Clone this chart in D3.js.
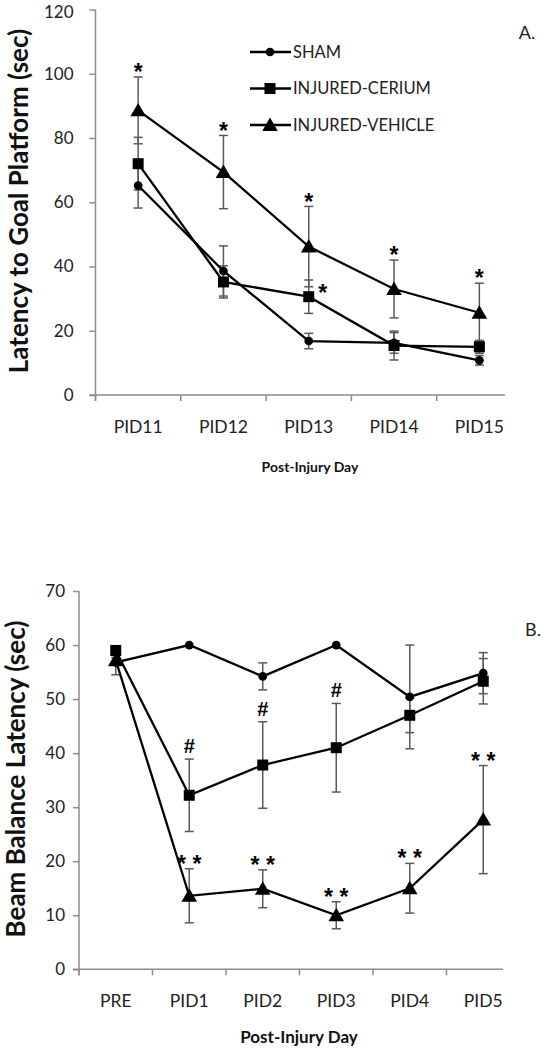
<!DOCTYPE html>
<html>
<head>
<meta charset="utf-8">
<script src="https://cdn.jsdelivr.net/npm/d3@7"></script>
<style>
  html, body { margin: 0; padding: 0; background: #fff; }
  svg { display: block; font-family: Lato, "Open Sans", sans-serif; }
</style>
</head>
<body>
<svg id="chart" width="547" height="1050"></svg>
<script>
// ---------- Panel A data ----------
const topCategories = ["PID11", "PID12", "PID13", "PID14", "PID15"];
const topYTicks = [0, 20, 40, 60, 80, 100, 120];
const topSham = [65.2, 38.6, 16.8, 16.2, 10.8];
const topShamErr = [7.0, 7.8, 2.4, 3.2, 1.5];
const topCerium = [72.0, 35.2, 30.6, 15.4, 15.0];
const topCeriumErr = [8.2, 5.0, 5.2, 4.5, 2.0];
const topVehicle = [88.6, 69.4, 46.2, 33.0, 25.6];
const topVehicleErr = [10.4, 11.4, 12.5, 9.0, 9.2];
const topMarksVehicle = ["*", "*", "*", "*", "*"];
const topMarksCerium = ["", "", "*", "", ""];

// ---------- Panel B data ----------
const botCategories = ["PRE", "PID1", "PID2", "PID3", "PID4", "PID5"];
const botYTicks = [0, 10, 20, 30, 40, 50, 60, 70];
const botSham = [56.8, 60.0, 54.2, 60.0, 50.4, 54.8];
const botShamErr = [2.3, 0, 2.5, 0, 9.6, 3.8];
const botCerium = [59.0, 32.2, 37.8, 41.0, 47.0, 53.3];
const botCeriumErr = [0.5, 6.7, 8.0, 8.2, 3.2, 4.2];
const botVehicle = [57.2, 13.6, 14.9, 10.0, 15.0, 27.7];
const botVehicleErr = [0.5, 5.0, 3.5, 2.5, 4.6, 10.0];
const botMarksCerium = ["", "#", "#", "#", "", ""];
const botMarksVehicle = ["", "* *", "* *", "* *", "* *", "* *"];

const seriesNames = ["SHAM", "INJURED-CERIUM", "INJURED-VEHICLE"];
const seriesShapes = ["circle", "square", "triangle"];

const svg = d3.select("#chart");
const AXIS = "#8c8c8c", ERR = "#5a5a5a", INK = "#000";

const symbolFor = {
  circle: d3.symbol().type(d3.symbolCircle).size(60),
  square: d3.symbol().type(d3.symbolSquare).size(121),
  triangle: d3.symbol().type(d3.symbolTriangle).size(105)
};

function drawPanel(cfg) {
  const g = svg.append("g");
  const x = d3.scaleBand().domain(cfg.categories).range([cfg.x0, cfg.x0 + cfg.step * cfg.categories.length]).paddingInner(0).paddingOuter(0);
  const y = d3.scaleLinear().domain([0, cfg.yMax]).range([cfg.y0, cfg.yTop]);
  const cx = c => x(c) + x.bandwidth() / 2;

  // y axis
  const yAxis = d3.axisLeft(y).tickValues(cfg.yTicks).tickSize(6).tickPadding(cfg.yPad);
  const ya = g.append("g").attr("transform", `translate(${cfg.x0},0)`).call(yAxis);
  ya.select(".domain").attr("stroke", AXIS).attr("stroke-width", 1.5).attr("d", `M-0,${cfg.yTop}V${cfg.y0 + 6}`);
  ya.selectAll(".tick line").attr("stroke", AXIS).attr("stroke-width", 1.5);
  ya.selectAll(".tick text").attr("font-size", 17).attr("fill", "#222").attr("font-family", "Lato, sans-serif")
    .attr("dy", d => (d === cfg.yMax && cfg.yTop < 15) ? "0.45em" : "0.32em");

  // x axis
  const xa = g.append("g").attr("transform", `translate(0,${cfg.y0})`);
  xa.append("line").attr("x1", cfg.x0 - 6).attr("x2", cfg.xEnd).attr("stroke", AXIS).attr("stroke-width", 1.5);
  xa.selectAll("line.tk").data(cfg.categories).join("line").attr("class", "tk")
    .attr("x1", d => x(d)).attr("x2", d => x(d)).attr("y1", 0).attr("y2", 6)
    .attr("stroke", AXIS).attr("stroke-width", 1.5);
  xa.selectAll("text").data(cfg.categories).join("text")
    .attr("x", d => cx(d)).attr("y", 32).attr("dy", "0.35em").attr("text-anchor", "middle")
    .attr("font-size", 17.5).attr("fill", "#222").text(d => d);

  // titles
  g.append("text").attr("x", cfg.xTitleX).attr("y", cfg.xTitleY).attr("text-anchor", "middle").attr("dy", "0.35em")
    .attr("font-size", cfg.xTitleSize).attr("font-weight", "bold").attr("fill", "#111").text(cfg.xTitle);
  g.append("text").attr("transform", `translate(${cfg.yTitleX},${cfg.yTitleY}) rotate(-90)`)
    .attr("text-anchor", "middle").attr("dy", "0.35em")
    .attr("font-size", cfg.yTitleSize).attr("font-weight", "bold").attr("fill", "#111").text(cfg.yTitle);
  g.append("text").attr("x", cfg.labelX).attr("y", cfg.labelY).attr("dy", "0.35em").attr("text-anchor", "middle")
    .attr("font-size", 18).attr("fill", "#222").text(cfg.label);

  // error bars
  cfg.series.forEach(s => {
    const eg = g.append("g");
    s.values.forEach((v, i) => {
      const e = s.err[i];
      if (!e) return;
      const xc = cx(cfg.categories[i]);
      eg.append("line").attr("x1", xc).attr("x2", xc).attr("y1", y(v - e)).attr("y2", y(v + e)).attr("stroke", ERR).attr("stroke-width", 1.5);
      [v - e, v + e].forEach(t => eg.append("line").attr("x1", xc - 4.5).attr("x2", xc + 4.5).attr("y1", y(t)).attr("y2", y(t)).attr("stroke", ERR).attr("stroke-width", 1.5));
    });
  });

  // lines + markers
  const line = d3.line().x((d, i) => cx(cfg.categories[i])).y(d => y(d));
  cfg.series.forEach(s => {
    g.append("path").attr("d", line(s.values)).attr("fill", "none").attr("stroke", INK).attr("stroke-width", 2.3);
  });
  cfg.series.forEach(s => {
    g.selectAll(null).data(s.values).join("path")
      .attr("transform", (d, i) => `translate(${cx(cfg.categories[i])},${y(d) + (s.shape === "triangle" ? 1.5 : 0)})`)
      .attr("d", symbolFor[s.shape]).attr("fill", INK);
  });

  // significance marks
  cfg.series.forEach(s => {
    if (!s.marks) return;
    s.marks.forEach((m, i) => {
      if (!m) return;
      const xc = cx(cfg.categories[i]);
      const top = y(s.values[i] + s.err[i]);
      const side = s.markSide === "right";
      g.append("text")
        .attr("x", side ? xc + 14 : xc)
        .attr("y", side ? top + 5 : top - 13)
        .attr("dy", m === "#" ? "0.35em" : "0.7em")
        .attr("text-anchor", "middle")
        .attr("font-size", m === "#" ? 20 : 23).attr("font-weight", "bold")
        .attr("font-family", "'Liberation Sans', sans-serif")
        .attr("fill", INK).attr("xml:space", "preserve").text(m);
    });
  });
  return { x, y };
}

// Panel A
drawPanel({
  categories: topCategories, yTicks: topYTicks, yMax: 120,
  x0: 95.5, step: 85.3, xEnd: 505, y0: 395, yTop: 9.5, yPad: 16,
  xTitle: "Post-Injury Day", xTitleX: 310, xTitleY: 467, xTitleSize: 14,
  yTitle: "Latency to Goal Platform (sec)", yTitleX: 19, yTitleY: 201, yTitleSize: 26,
  label: "A.", labelX: 527, labelY: 33,
  series: [
    { values: topSham, err: topShamErr, shape: "circle" },
    { values: topCerium, err: topCeriumErr, shape: "square", marks: topMarksCerium, markSide: "right" },
    { values: topVehicle, err: topVehicleErr, shape: "triangle", marks: topMarksVehicle }
  ]
});

// legend for panel A
const legend = svg.append("g");
seriesNames.forEach((name, i) => {
  const ly = 52 + i * 36.5;
  legend.append("line").attr("x1", 250).attr("x2", 291).attr("y1", ly).attr("y2", ly).attr("stroke", INK).attr("stroke-width", 2.3);
  legend.append("path").attr("transform", `translate(270,${ly + (seriesShapes[i] === "triangle" ? 1.5 : 0)})`).attr("d", symbolFor[seriesShapes[i]]).attr("fill", INK);
  legend.append("text").attr("x", 293).attr("y", ly).attr("dy", "0.35em").attr("font-size", 16.5).attr("fill", "#222").text(name);
});

// Panel B
drawPanel({
  categories: botCategories, yTicks: botYTicks, yMax: 70,
  x0: 79, step: 73.5, xEnd: 503, y0: 969.3, yTop: 591, yPad: 8,
  xTitle: "Post-Injury Day", xTitleX: 299, xTitleY: 1037, xTitleSize: 17,
  yTitle: "Beam Balance Latency (sec)", yTitleX: 16, yTitleY: 779, yTitleSize: 26,
  label: "B.", labelX: 533, labelY: 630,
  series: [
    { values: botSham, err: botShamErr, shape: "circle" },
    { values: botCerium, err: botCeriumErr, shape: "square", marks: botMarksCerium },
    { values: botVehicle, err: botVehicleErr, shape: "triangle", marks: botMarksVehicle }
  ]
});
</script>
</body>
</html>
